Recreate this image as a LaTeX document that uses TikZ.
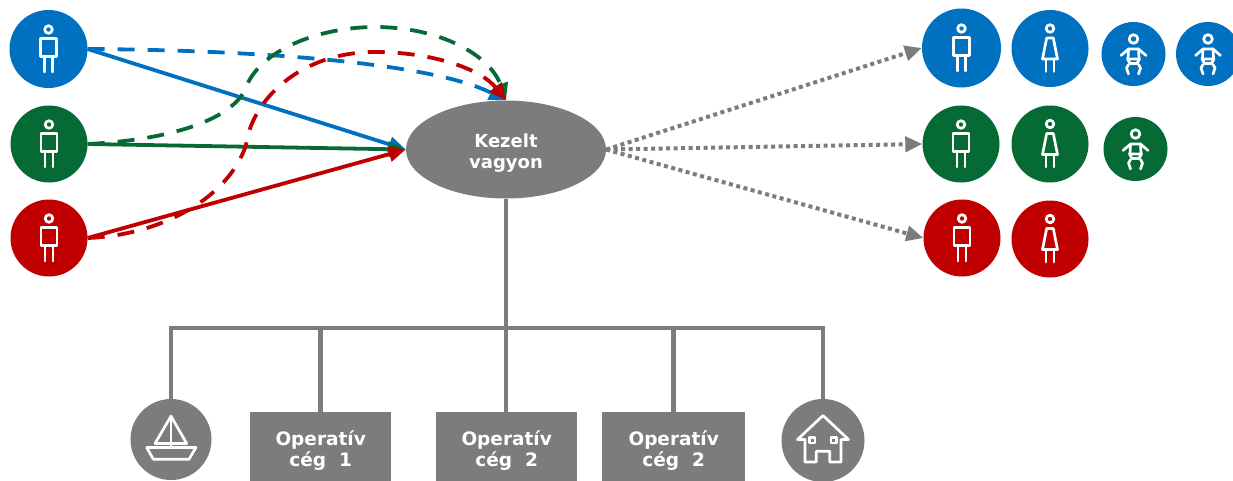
\documentclass[tikz,border=0pt]{standalone}
\usepackage{fontspec}
\setmainfont{DejaVu Sans}
\usetikzlibrary{arrows.meta,shapes.geometric}
\definecolor{cblue}{HTML}{0070C0}
\definecolor{cgreen}{HTML}{066A35}
\definecolor{cred}{HTML}{C00000}
\definecolor{cgray}{HTML}{7C7C7C}
\tikzset{
  x=1pt,y=-1pt,
  disc/.style={circle,inner sep=0pt,minimum size=#1,draw=none},
  tip/.style={-{Triangle[length=17pt,width=15pt]}},
  solidlink/.style={line width=3.8pt,tip},
  dashlink/.style={line width=3.8pt,dash pattern=on 17pt off 13pt,tip},
  dotlink/.style={cgray,line width=4pt,dash pattern=on 4pt off 3.5pt,tip},
  tree/.style={cgray,line width=4.3pt},
  box/.style={fill=cgray,minimum width=#1,minimum height=77pt,inner sep=0pt,text=white,align=center,anchor=north west,font=\fontsize{18.5}{21.5}\selectfont\bfseries},
  icon/.style={white,line width=2.7pt,line cap=round,line join=round},
  manicon/.pic={
    \draw[icon] (0,-19.5) circle (3.8);
    \draw[icon] (-8,-10.5) rectangle (8,7.5);
    \draw[icon] (-4,7.5) -- (-4,23) (4,7.5) -- (4,23);
  },
  womanicon/.pic={
    \draw[icon] (0,-20) circle (3.8);
    \draw[icon] (-3.3,-10.5) -- (3.3,-10.5) -- (7.5,10.5) -- (-7.5,10.5) -- cycle;
    \draw[icon] (-4,10.5) -- (-4,23) (4,10.5) -- (4,23);
  },
  babyicon/.pic={
    \draw[icon] (0,-15) circle (4.3);
    \draw[icon] (-12.5,1.5) -- (-5,-5) -- (5,-5) -- (12.5,1.5);
    \draw[icon] (-5,-5) -- (-5.5,4.5) (5,-5) -- (5.5,4.5);
    \draw[icon] (-6,5) -- (6,5) -- (3.5,9.5) -- (-3.5,9.5) -- cycle;
    \draw[icon] (-5,10.5) -- (-7,14) -- (-5,20) (5,10.5) -- (7,14) -- (5,20);
  },
  boaticon/.pic={
    \draw[icon] (-24.3,8) -- (25,8) -- (18,19.7) -- (-17.7,19.7) -- cycle;
    \draw[icon] (-16,4) -- (0,-23.3) -- (15.7,4) -- cycle;
    \draw[icon] (0,-23.3) -- (0,8);
  },
  houseicon/.pic={
    \draw[icon] (-18,-1) -- (-25.5,-1) -- (0,-25) -- (25.5,-1) -- (18,-1) -- (18,21.5) -- (6.7,21.5) -- (6.7,10.8) -- (-6.7,10.8) -- (-6.7,21.5) -- (-18,21.5) -- cycle;
    \draw[icon] (-13.5,-3) rectangle (-8,2.5);
    \draw[icon] (8,-3) rectangle (13.5,2.5);
  },
}
\begin{document}
\begin{tikzpicture}
\useasboundingbox (0,0) rectangle (1233,480);
\clip (0,0) rectangle (1233,480);
% sources
\node[disc=78pt,fill=cblue] (sblue) at (48.5,49) {};
\node[disc=77pt,fill=cgreen] (sgreen) at (49,144) {};
\node[disc=77pt,fill=cred] (sred) at (49,238) {};
\pic at (sblue) {manicon};
\pic at (sgreen) {manicon};
\pic at (sred) {manicon};
% centre
\node[ellipse,fill=cgray,minimum width=200pt,minimum height=98pt,inner sep=0pt,text=white,align=center,font=\fontsize{18}{21.5}\selectfont\bfseries] (vagyon) at (506,149.5) {\rule{0pt}{21pt}Kezelt\\vagyon};
% family
\node[disc=79pt,fill=cblue] (tbm) at (961.5,48) {};
\node[disc=77pt,fill=cblue] (tbw) at (1050,48.5) {};
\node[disc=64pt,fill=cblue] (tbb) at (1133.5,54) {};
\node[disc=64pt,fill=cblue] (tbc) at (1208,54) {};
\node[disc=77pt,fill=cgreen] (tgm) at (961,144) {};
\node[disc=77pt,fill=cgreen] (tgw) at (1050,144) {};
\node[disc=64pt,fill=cgreen] (tgb) at (1135.5,149) {};
\node[disc=77pt,fill=cred] (trm) at (962,238) {};
\node[disc=77pt,fill=cred] (trw) at (1050,239) {};
\pic at (tbm) {manicon};
\pic at (tbw) {womanicon};
\pic at (tbb) {babyicon};
\pic at (tbc) {babyicon};
\pic at (tgm) {manicon};
\pic at (tgw) {womanicon};
\pic at (tgb) {babyicon};
\pic at (trm) {manicon};
\pic at (trw) {womanicon};
% bottom tree
\coordinate (trunk) at (506,328);
\coordinate (barl) at (169.2,328);
\coordinate (barr) at (825.3,328);
\coordinate (j1) at (171,328);
\coordinate (j2) at (320.5,328);
\coordinate (j3) at (506,328);
\coordinate (j4) at (673.5,328);
\coordinate (j5) at (823,328);
\node[disc=81pt,fill=cgray] (boat) at (171,439.5) {};
\node[disc=83pt,fill=cgray] (house) at (823,440.5) {};
\node[box=141pt] (op1) at (250,412) {Operatív\\cég\ \ 1};
\node[box=141pt] (op2) at (436,412) {Operatív\\cég\ \ 2};
\node[box=143pt] (op3) at (602,412) {Operatív\\cég\ \ 2};
\pic at (boat) {boaticon};
\pic at (house) {houseicon};
\draw[tree] (vagyon.south) -- (trunk);
\draw[tree] (barl) -- (barr);
\draw[tree] (j1) -- (boat.north);
\draw[tree] (j2) -- (j2 |- op1.north);
\draw[tree] (j3) -- (j3 |- op2.north);
\draw[tree] (j4) -- (j4 |- op3.north);
\draw[tree] (j5) -- (house.north);
% links
\draw[solidlink,cblue] (sblue.east) -- (vagyon.west);
\draw[solidlink,cgreen] (sgreen.east) -- (vagyon.west);
\draw[solidlink,cred] (sred.east) -- (vagyon.west);
\draw[dashlink,cblue] (sblue.east) .. controls (250,50) and (430,62) .. (vagyon.north);
\draw[dashlink,cgreen] (sgreen.east) .. controls (170,140) and (230,120) .. (245,90) .. controls (258,50) and (320,27) .. (375,27) .. controls (440,27) and (490,55) .. (vagyon.north);
\draw[dashlink,cred] (sred.east) .. controls (165,235) and (230,195) .. (246,145) .. controls (252,100) and (300,52) .. (375,52) .. controls (430,52) and (480,68) .. (vagyon.north);
\draw[dotlink] (vagyon.east) -- (tbm.west);
\draw[dotlink] (vagyon.east) -- (tgm.west);
\draw[dotlink] (vagyon.east) -- (trm.west);
\end{tikzpicture}
\end{document}
